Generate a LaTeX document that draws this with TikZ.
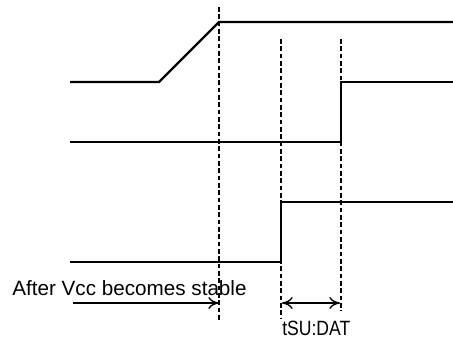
\documentclass[tikz,border=0pt]{standalone}
\usepackage{fontspec}
\setmainfont{Liberation Sans}
\usetikzlibrary{arrows.meta}
\begin{document}
\begin{tikzpicture}[x=0.75pt,y=-0.75pt,
  sig/.style={line width=1.6pt,line join=miter},
  guide/.style={line width=1.5pt,dash pattern=on 3.5pt off 2pt},
  meas/.style={line width=1.2pt,-{To[length=8pt,width=9pt,line width=1pt]}},
  dmeas/.style={line width=1.2pt,{To[length=8pt,width=9pt,line width=1pt]}-{To[length=8pt,width=9pt,line width=1pt]}},
  lbl/.style={font=\fontsize{15.5pt}{18pt}\selectfont,inner sep=0pt,anchor=base west}]
\useasboundingbox (0,0) rectangle (453,338);
% top signal
\coordinate (a0) at (70,82);
\coordinate (a1) at (159,82);
\coordinate (a2) at (219,22);
\coordinate (a3) at (453,22);
\draw[sig] (a0) -- (a1) -- (a2) -- (a3);
% second signal
\coordinate (b0) at (70,142);
\coordinate (b1) at (341,142);
\coordinate (b2) at (341,82);
\coordinate (b3) at (453,82);
\draw[sig] (b0) -- (b1) -- (b2) -- (b3);
% third signal
\coordinate (c0) at (70,262);
\coordinate (c1) at (281,262);
\coordinate (c2) at (281,202);
\coordinate (c3) at (453,202);
\draw[sig] (c0) -- (c1) -- (c2) -- (c3);
% dashed guides
\coordinate (d1t) at (219,7);
\coordinate (d1b) at (219,322);
\coordinate (d2t) at (281,39);
\coordinate (d2b) at (281,318);
\coordinate (d3t) at (341,39);
\coordinate (d3b) at (341,311);
\draw[guide] (d1t) -- (d1b);
\draw[guide] (d2t) -- (d2b);
\draw[guide] (d3t) -- (d3b);
% arrows
\coordinate (e0) at (73,303);
\coordinate (e1) at (219,303);
\draw[meas] (e0) -- (e1);
\coordinate (f0) at (282,303);
\coordinate (f1) at (340,303);
\draw[dmeas] (f0) -- (f1);
% labels
\node[lbl] (t1) at (12,296) {After Vcc becomes stable};
\node[lbl] (t2) at (282,335) {\scalebox{0.85}[1]{tSU:DAT}};
\end{tikzpicture}
\end{document}
